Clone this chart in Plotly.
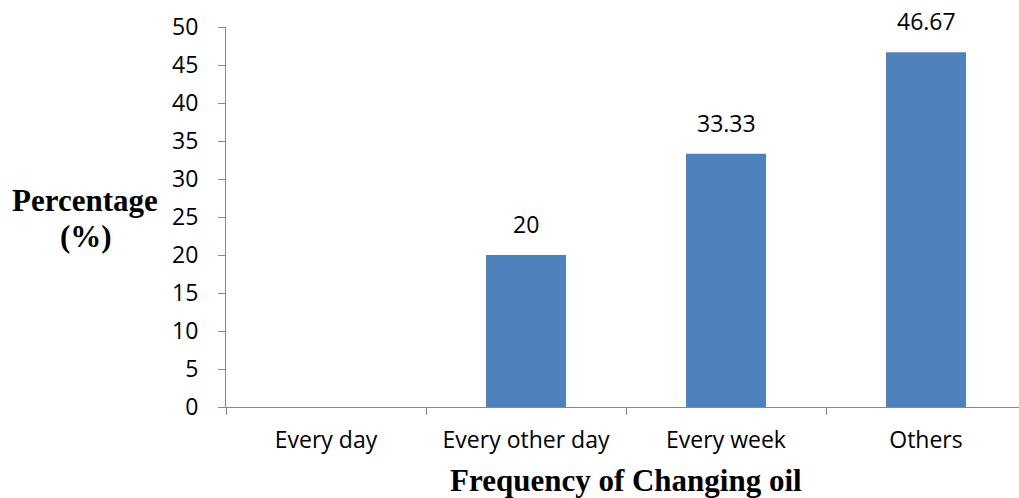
import plotly.graph_objects as go

categories = ["Every day", "Every other day", "Every week", "Others"]
percentages = [0, 20, 33.33, 46.67]
value_labels = ["", "20", "33.33", "46.67"]
y_ticks = [0, 5, 10, 15, 20, 25, 30, 35, 40, 45, 50]

axis_grey = "#898989"
bar_blue = "#4F81BD"
label_font = dict(family="Open Sans, sans-serif", size=23, color="#000000")
title_font = dict(family="Liberation Serif, Times New Roman, serif", size=31, color="#000000")

fig = go.Figure()
fig.add_trace(go.Bar(
    x=categories,
    y=percentages,
    width=0.4,
    marker=dict(color=bar_blue, line=dict(width=0)),
    hoverinfo="skip",
))

# value labels above the bars
for cat, val, txt in zip(categories, percentages, value_labels):
    if txt:
        fig.add_annotation(
            x=cat, y=val, text=txt, showarrow=False,
            xref="x", yref="y", yanchor="bottom", yshift=13,
            font=label_font,
        )

# y-axis title, written horizontally on two lines
fig.add_annotation(
    text="<b>Percentage</b>", showarrow=False,
    xref="paper", yref="paper", x=-0.1772, y=0.5447,
    xanchor="center", yanchor="middle", font=title_font,
)
fig.add_annotation(
    text="<b>(%)</b>", showarrow=False,
    xref="paper", yref="paper", x=-0.1760, y=0.4474,
    xanchor="center", yanchor="middle", font=title_font,
)
# x-axis title
fig.add_annotation(
    text="<b>Frequency of Changing oil</b>", showarrow=False,
    xref="paper", yref="paper", x=0.505, y=-0.1925,
    xanchor="center", yanchor="middle", font=title_font,
)

fig.update_layout(
    width=1019, height=498,
    margin=dict(l=226, r=0, t=27, b=91),
    paper_bgcolor="white", plot_bgcolor="white",
    showlegend=False,
    xaxis=dict(
        type="category",
        range=[-0.5, 3.465],
        showline=True, linecolor=axis_grey, linewidth=1,
        ticks="outside", tickson="boundaries", ticklen=7,
        tickcolor=axis_grey, tickwidth=1,
        showgrid=False, zeroline=False,
        tickfont=label_font,
        ticklabelstandoff=12,
    ),
    yaxis=dict(
        range=[0, 50],
        tickvals=y_ticks,
        showline=True, linecolor=axis_grey, linewidth=1,
        ticks="outside", ticklen=7, tickcolor=axis_grey, tickwidth=1,
        showgrid=False, zeroline=False,
        tickfont=label_font,
        ticklabelstandoff=15,
    ),
)

fig.write_html("out.html")
